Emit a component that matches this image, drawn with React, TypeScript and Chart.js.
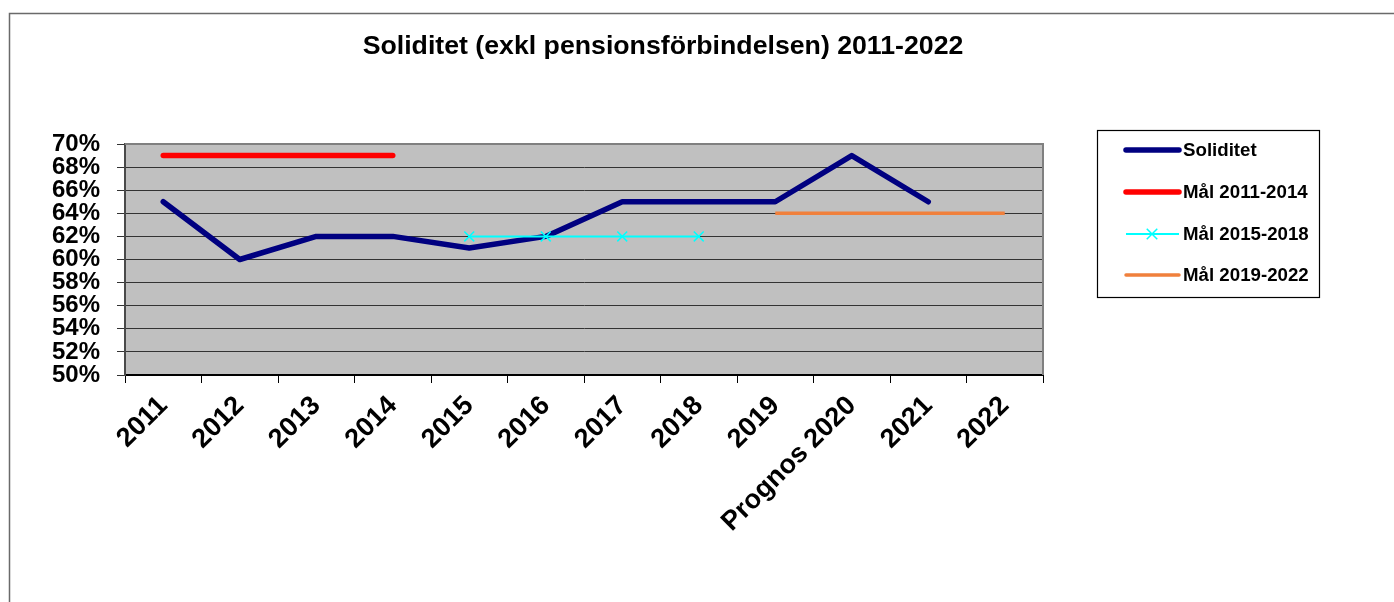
import React, { useEffect, useRef } from "react";
import { Chart, registerables } from "chart.js";

Chart.register(...registerables);

const categories = ["2011", "2012", "2013", "2014", "2015", "2016", "2017", "2018", "2019", "Prognos 2020", "2021", "2022"];
const soliditet = [65, 60, 62, 62, 61, 62, 65, 65, 65, 69, 65, null];
const mal20112014 = [69, 69, 69, 69, null, null, null, null, null, null, null, null];
const mal20152018 = [null, null, null, null, 62, 62, 62, 62, null, null, null, null];
const mal20192022 = [null, null, null, null, null, null, null, null, 64, 64, 64, 64];
const yMin = 50;
const yMax = 70;
const yStep = 2;
const titleText = "Soliditet (exkl pensionsförbindelsen) 2011-2022";

const FONT = "'Liberation Sans', Arial, Helvetica, sans-serif";

const W = 1394;
const H = 602;
const AREA = { left: 125, top: 144, right: 1043, bottom: 375 };

const decorPlugin = {
  id: "decor",
  beforeDraw(chart: any) {
    const { ctx, chartArea } = chart;
    ctx.save();
    ctx.fillStyle = "#ffffff";
    ctx.fillRect(0, 0, W, H);
    // outer frame
    ctx.strokeStyle = "#6a6a6a";
    ctx.lineWidth = 1.5;
    ctx.strokeRect(9.5, 13.5, W + 20, H + 20);
    // plot background
    ctx.fillStyle = "#c0c0c0";
    ctx.fillRect(chartArea.left, chartArea.top, chartArea.right - chartArea.left, chartArea.bottom - chartArea.top);
    ctx.restore();
  },
  beforeDatasetsDraw(chart: any) {
    const { ctx, chartArea } = chart;
    ctx.save();
    ctx.strokeStyle = "#808080";
    ctx.lineWidth = 2;
    ctx.beginPath();
    ctx.moveTo(chartArea.left, chartArea.top);
    ctx.lineTo(chartArea.right, chartArea.top);
    ctx.lineTo(chartArea.right, chartArea.bottom);
    ctx.stroke();
    ctx.restore();
  },
  afterDraw(chart: any) {
    const { ctx } = chart;
    ctx.save();
    // title
    ctx.fillStyle = "#000";
    ctx.font = `bold 26.7px ${FONT}`;
    ctx.textAlign = "center";
    ctx.textBaseline = "alphabetic";
    ctx.fillText(titleText, 663, 54);

    // legend
    const lx = 1097, ly = 130, lw = 222, lh = 167;
    ctx.fillStyle = "#fff";
    ctx.fillRect(lx, ly, lw, lh);
    ctx.strokeStyle = "#000";
    ctx.lineWidth = 1.2;
    ctx.strokeRect(lx + 0.5, ly + 0.5, lw, lh);
    const rows = [150, 192, 234, 275];
    chart.data.datasets.forEach((ds: any, i: number) => {
      const y = rows[i];
      ctx.strokeStyle = ds.borderColor;
      ctx.lineWidth = ds.borderWidth;
      ctx.lineCap = ds.legendCap || "round";
      ctx.beginPath();
      ctx.moveTo(1126, y);
      ctx.lineTo(1179, y);
      ctx.stroke();
      if (ds.pointRadius > 0) {
        const r = ds.pointRadius * 0.75;
        ctx.lineWidth = 1.5;
        ctx.lineCap = "butt";
        ctx.beginPath();
        ctx.moveTo(1152 - r, y - r);
        ctx.lineTo(1152 + r, y + r);
        ctx.moveTo(1152 - r, y + r);
        ctx.lineTo(1152 + r, y - r);
        ctx.stroke();
      }
      ctx.fillStyle = "#000";
      ctx.font = `bold 18.7px ${FONT}`;
      ctx.textAlign = "left";
      ctx.textBaseline = "middle";
      ctx.fillText(ds.label, 1183, y + 1);
    });
    ctx.restore();
  },
};

export default function App() {
  const ref = useRef<HTMLCanvasElement | null>(null);

  useEffect(() => {
    if (!ref.current) return;
    const chart = new Chart(ref.current, {
      type: "line",
      data: {
        labels: categories,
        datasets: [
          {
            label: "Soliditet",
            data: soliditet,
            borderColor: "#000080",
            backgroundColor: "#000080",
            borderWidth: 5.5,
            pointRadius: 0,
            borderCapStyle: "round",
            borderJoinStyle: "round",
            tension: 0,
            order: 4,
          } as any,
          {
            label: "Mål 2011-2014",
            data: mal20112014,
            borderColor: "#ff0000",
            backgroundColor: "#ff0000",
            borderWidth: 5.5,
            pointRadius: 0,
            borderCapStyle: "round",
            tension: 0,
            order: 3,
          },
          {
            label: "Mål 2015-2018",
            data: mal20152018,
            borderColor: "#00ffff",
            backgroundColor: "#00ffff",
            borderWidth: 2,
            pointStyle: "crossRot",
            pointRadius: 7,
            pointBorderWidth: 1.5,
            pointBorderColor: "#00ffff",
            tension: 0,
            order: 1,
            legendCap: "butt",
          } as any,
          {
            label: "Mål 2019-2022",
            data: mal20192022,
            borderColor: "#f0803c",
            backgroundColor: "#f0803c",
            borderWidth: 3.5,
            pointRadius: 0,
            borderCapStyle: "butt",
            tension: 0,
            order: 2,
          },
        ],
      },
      options: {
        animation: false,
        responsive: false,
        devicePixelRatio: 1,
        layout: { padding: { top: AREA.top, right: W - AREA.right, bottom: 0, left: 0 } },
        plugins: {
          legend: { display: false },
          title: { display: false },
          tooltip: { enabled: false },
        },
        scales: {
          x: {
            type: "category",
            offset: true,
            grid: {
              offset: true,
              drawOnChartArea: false,
              drawTicks: true,
              tickLength: 8,
              color: "#000",
              lineWidth: 1,
            },
            border: { display: true, color: "#000", width: 2 },
            ticks: {
              color: "#000",
              font: { family: FONT, size: 27, weight: "bold" },
              minRotation: 45,
              maxRotation: 45,
              autoSkip: false,
              padding: 7,
            },
            afterFit(scale: any) {
              scale.height = H - AREA.bottom;
            },
          },
          y: {
            min: yMin,
            max: yMax,
            grid: {
              color: "#333",
              lineWidth: 1,
              drawTicks: true,
              tickLength: 8,
            },
            border: { display: true, color: "#4a4a4a", width: 2 },
            ticks: {
              stepSize: yStep,
              autoSkip: false,
              color: "#000",
              font: { family: FONT, size: 24, weight: "bold", lineHeight: 0.9 },
              padding: 17,
              callback: (v: any) => `${v}%`,
            },
            afterFit(scale: any) {
              scale.width = AREA.left;
            },
          },
        },
      },
      plugins: [decorPlugin],
    });
    return () => chart.destroy();
  }, []);

  return (
    <div style={{ position: "absolute", left: 0, top: 0, width: W, height: H, overflow: "hidden", background: "#fff" }}>
      <canvas ref={ref} width={W} height={H} style={{ display: "block", width: W, height: H }} />
    </div>
  );
}
